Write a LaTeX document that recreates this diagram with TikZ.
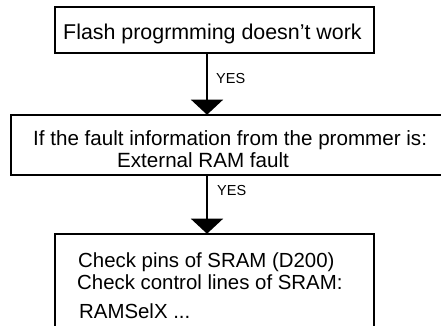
\documentclass[tikz,border=0pt]{standalone}
\usepackage{fontspec}
\setmainfont{Liberation Sans}
\usetikzlibrary{arrows.meta}
\tikzset{
  box/.style={draw, line width=1.6pt, rectangle, inner sep=0pt},
  txt/.style={inner sep=0pt, anchor=base west, font=\fontsize{20.6}{24}\selectfont},
  lbl/.style={inner sep=0pt, anchor=base west, font=\fontsize{14.5}{17}\selectfont},
  conn/.style={line width=1.4pt, -{Triangle[width=32pt,length=15pt]}, shorten >=-0.5pt}
}
\begin{document}
\begin{tikzpicture}[x=1pt,y=-1pt]
\path[use as bounding box, clip] (0,0) rectangle (441,325);
\fill[white] (0,0) rectangle (441,325);
% boxes
\node[box, minimum width=319pt, minimum height=46pt] (b1) at (214.5,30) {};
\node[box, minimum width=441pt, minimum height=60pt] (b2) at (231.5,145) {};
\node[box, minimum width=319pt, minimum height=130pt] (b3) at (214.5,299) {};
% texts
\node[txt, font=\fontsize{21.4}{24}\selectfont] (t1) at (63,39) {Flash progrmming doesn’t work};
\node[txt] (t2a) at (33,145) {If the fault information from the prommer is:};
\node[txt] (t2b) at (117,167) {External RAM fault};
\node[txt, font=\fontsize{20.4}{24}\selectfont] (t3a) at (78,267) {Check pins of SRAM (D200)};
\node[txt, font=\fontsize{20.4}{24}\selectfont] (t3b) at (77,289) {Check control lines of SRAM:};
\node[txt, font=\fontsize{20.4}{24}\selectfont] (t3c) at (79,318) {RAMSelX ...};
% connectors
\coordinate (s1) at (207,53);
\coordinate (s2) at (207,175);
\draw[conn] (s1) -- (s1 |- b2.north);
\draw[conn] (s2) -- (s2 |- b3.north);
\node[lbl] (y1) at (216,83) {YES};
\node[lbl] (y2) at (217,195) {YES};
\end{tikzpicture}
\end{document}
